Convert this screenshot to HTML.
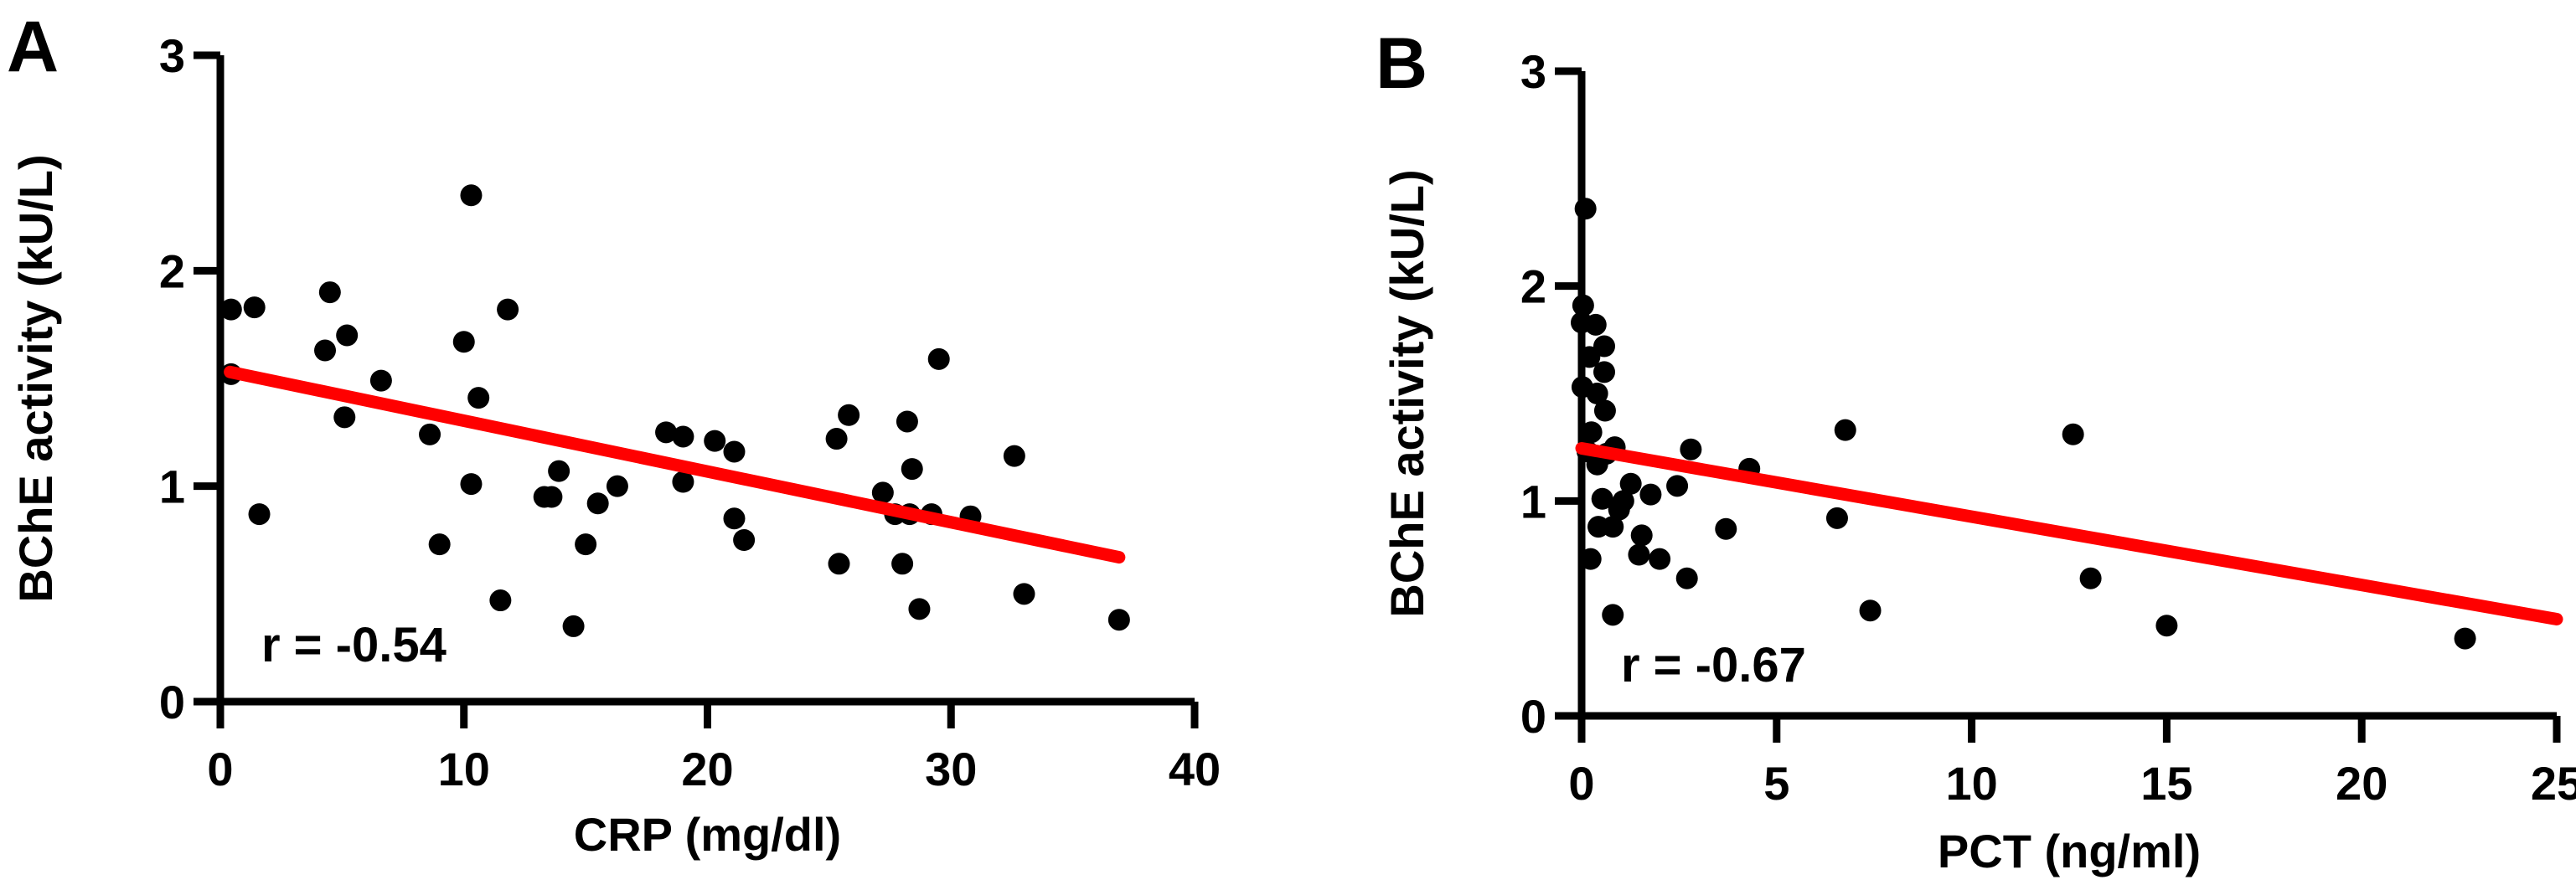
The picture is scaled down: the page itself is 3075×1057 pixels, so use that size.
<!DOCTYPE html>
<html><head><meta charset="utf-8"><style>
html,body{margin:0;padding:0;background:#fff;}
svg{display:block;font-family:"Liberation Sans",Arial,sans-serif;font-weight:bold;}
</style></head><body>
<svg id="chart" width="3075" height="1057" viewBox="0 0 3075 1057" xmlns="http://www.w3.org/2000/svg"></svg>
<script>
// Panel A data
const crpX = [0.44,0.44,1.4,1.6,4.3,4.5,5.2,5.1,6.6,8.6,9.0,10.0,10.3,10.3,10.6,11.5,11.8,13.3,13.6,13.9,14.5,15.0,15.5,16.3,18.3,19.0,19.0,20.3,21.1,21.1,21.5,25.3,25.4,25.8,27.2,27.7,28.2,28.0,28.3,28.4,28.7,29.2,29.5,30.8,32.6,33.0,36.9];
const crpY = [1.82,1.52,1.83,0.87,1.63,1.90,1.70,1.32,1.49,1.24,0.73,1.67,2.35,1.01,1.41,0.47,1.82,0.95,0.95,1.07,0.35,0.73,0.92,1.00,1.25,1.23,1.02,1.21,1.16,0.85,0.75,1.22,0.64,1.33,0.97,0.87,1.30,0.64,0.87,1.08,0.43,0.87,1.59,0.86,1.14,0.50,0.38];
const crpFit = [[0.4,1.53],[36.9,0.67]];
const crpXTicks = [0,10,20,30,40];
// Panel B data
const pctX = [0.1,0.04,0,0.36,0.58,0.2,0.58,0.02,0.4,0.6,0.25,0.85,0.15,0.4,0.64,1.26,0.53,1.07,0.96,1.77,2.45,2.8,4.3,0.43,0.8,1.54,3.7,1.47,2.0,0.23,2.7,0.8,6.76,6.55,7.4,12.6,13.05,15.0,22.65];
const pctY = [2.36,1.91,1.83,1.82,1.72,1.67,1.60,1.53,1.50,1.42,1.32,1.25,1.23,1.17,1.22,1.08,1.01,1.00,0.96,1.03,1.07,1.24,1.15,0.88,0.88,0.84,0.87,0.75,0.73,0.73,0.64,0.47,1.33,0.92,0.49,1.31,0.64,0.42,0.36];
const pctFit = [[0,1.245],[25,0.45]];
const pctXTicks = [0,5,10,15,20,25];
const yTicks = [0,1,2,3];

const NS="http://www.w3.org/2000/svg";
const svg=document.getElementById('chart');
function mk(tag,attrs,parent){const e=document.createElementNS(NS,tag);for(const k in attrs)e.setAttribute(k,attrs[k]);(parent||svg).appendChild(e);return e;}

function panel(o){
  const g=mk('g',{});
  
  
  const sx=v=>o.x0+(v-o.xmin)/(o.xmax-o.xmin)*(o.x1-o.x0);
  const sy=v=>o.y0-(v/3)*(o.y0-o.y3);
  const L=mk('text',{x:o.letterX,y:o.letterY,'font-size':86},g);L.textContent=o.letter;
  
  
  const ax=mk('path',{d:`M${o.x0} ${o.y3}V${o.y0}H${o.x1}`,stroke:'#000','stroke-width':9,fill:'none'},g);
  
  
  yTicks.forEach(t=>{
    const y=sy(t);
    mk('line',{x1:o.x0-32,x2:o.x0,y1:y,y2:y,stroke:'#000','stroke-width':9},g);
    const tx=mk('text',{x:o.x0-42,y:y+20,'font-size':56,'text-anchor':'end'},g);tx.textContent=t;
    
    
  });
  o.xt.forEach(t=>{
    const x=sx(t);
    mk('line',{x1:x,x2:x,y1:o.y0,y2:o.y0+32,stroke:'#000','stroke-width':9},g);
    const tx=mk('text',{x:x,y:o.y0+100,'font-size':56,'text-anchor':'middle'},g);tx.textContent=t;
    
    
  });
  const yt=mk('text',{x:0,y:0,'font-size':56,'text-anchor':'middle',transform:`translate(${o.ylx},${(o.y0+o.y3)/2}) rotate(-90)`},g);
  yt.textContent='BChE activity (kU/L)';
  
  
  const xt=mk('text',{x:(o.x0+o.x1)/2,y:o.xly,'font-size':56,'text-anchor':'middle'},g);
  xt.textContent=o.xlabel;
  
  
  o.xs.forEach((v,i)=>{
    const c=mk('circle',{cx:sx(v),cy:sy(o.ys[i]),r:13,fill:'#000'},g);
    
    
  });
  const f=mk('line',{x1:sx(o.fit[0][0]),y1:sy(o.fit[0][1]),x2:sx(o.fit[1][0]),y2:sy(o.fit[1][1]),stroke:'#ff0000','stroke-width':15,'stroke-linecap':'round'},g);
  
  
  const r=mk('text',{x:o.rx,y:o.ry,'font-size':58},g);r.textContent=o.rtext;
  
  
}
panel({name:'panel-a-crp',letter:'A',letterX:8,letterY:85,x0:263,x1:1426,xmin:0,xmax:40,y0:838,y3:66,xt:crpXTicks,xs:crpX,ys:crpY,fit:crpFit,ylx:62,xly:1016,xlabel:'CRP (mg/dl)',rx:312,ry:790,rtext:'r = -0.54'});
panel({name:'panel-b-pct',letter:'B',letterX:1642,letterY:105,x0:1888,x1:3052,xmin:0,xmax:25,y0:855,y3:85,xt:pctXTicks,xs:pctX,ys:pctY,fit:pctFit,ylx:1699,xly:1036,xlabel:'PCT (ng/ml)',rx:1935,ry:814,rtext:'r = -0.67'});
</script>
</body></html>
